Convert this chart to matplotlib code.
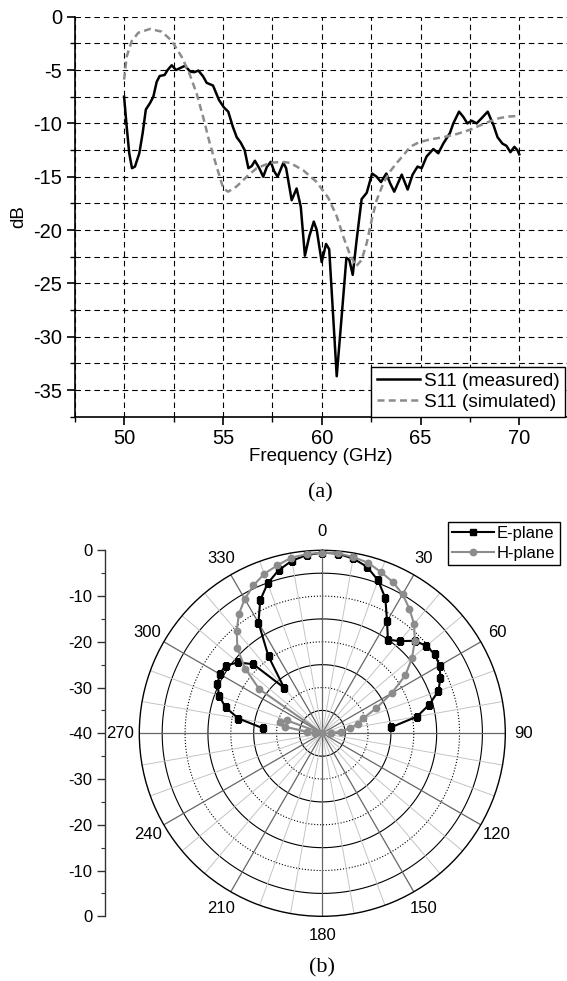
import numpy as np
import matplotlib.pyplot as plt
from matplotlib.ticker import MultipleLocator

plt.rcParams['font.family'] = ['Liberation Sans', 'DejaVu Sans']
plt.rcParams['axes.unicode_minus'] = False

# (a) S11 return loss
freq_meas = [50.0, 50.13, 50.26, 50.4, 50.55, 50.77, 50.94, 51.1, 51.31, 51.48, 51.65, 51.8,
             52.05, 52.2, 52.41, 52.63, 52.85, 53.08, 53.35, 53.55, 53.76, 54.0, 54.18, 54.5,
             54.8, 55.05, 55.27, 55.5, 55.7, 55.9, 56.1, 56.29, 56.46, 56.62, 56.84, 57.04,
             57.22, 57.42, 57.6, 57.77, 58.06, 58.2, 58.48, 58.73, 58.94, 59.15, 59.37, 59.6,
             59.75, 60.0, 60.22, 60.38, 60.76, 61.01, 61.25, 61.4, 61.57, 61.77, 62.02, 62.28,
             62.55, 62.78, 63.0, 63.27, 63.46, 63.67, 64.05, 64.35, 64.6, 64.85, 65.06, 65.31,
             65.65, 65.9, 66.15, 66.49, 66.66, 66.95, 67.17, 67.37, 67.59, 67.84, 68.1, 68.4,
             68.7, 68.9, 69.15, 69.35, 69.55, 69.75, 69.9, 70.0]
s11_meas = [-7.5, -10.3, -12.8, -14.2, -14.05, -12.8, -10.9, -8.7, -8.1, -7.5, -6.1, -5.56,
            -5.46, -5.0, -4.55, -5.0, -4.8, -4.6, -5.15, -5.2, -5.05, -5.6, -6.2, -6.45,
            -7.8, -8.5, -8.9, -10.3, -11.3, -11.8, -12.5, -14.2, -14.0, -13.5, -14.2, -15.0,
            -14.1, -13.6, -14.5, -15.0, -13.7, -14.2, -17.2, -16.1, -17.8, -22.4, -20.6, -19.2,
            -20.0, -23.0, -21.3, -21.8, -33.7, -28.1, -22.6, -22.8, -24.2, -20.9, -17.1, -16.5,
            -14.7, -15.0, -15.5, -14.7, -15.6, -16.4, -14.8, -16.2, -14.8, -14.05, -14.2, -13.1,
            -12.4, -12.8, -11.9, -10.9, -10.0, -8.9, -9.4, -10.0, -9.75, -10.0, -9.5, -8.9,
            -10.2, -11.3, -11.9, -12.1, -12.7, -12.2, -12.5, -12.9]

freq_sim = [50.0, 50.13, 50.38, 50.72, 51.31, 51.9, 52.41, 52.91, 53.3, 53.67, 54.0, 54.34,
            54.69, 55.02, 55.27, 55.7, 56.2, 56.71, 57.38, 57.98, 58.4, 59.07, 59.75, 60.34,
            60.76, 61.09, 61.43, 61.74, 62.02, 62.28, 62.53, 62.78, 63.12, 63.46, 63.8, 64.13,
            64.47, 64.89, 65.48, 66.15, 66.83, 67.5, 68.0, 68.52, 69.0, 69.5, 70.0]
s11_sim = [-5.9, -3.75, -2.3, -1.5, -1.15, -1.4, -2.25, -3.75, -5.3, -7.2, -9.4, -11.9,
           -14.1, -16.1, -16.4, -15.9, -15.0, -14.2, -13.7, -13.6, -13.7, -14.4, -15.5, -17.0,
           -18.7, -20.6, -22.3, -23.4, -22.8, -21.2, -19.05, -17.2, -15.6, -14.5, -13.7, -13.0,
           -12.2, -11.8, -11.5, -11.3, -11.0, -10.6, -10.2, -9.8, -9.5, -9.35, -9.3]

# (b) radiation pattern, angle in degrees (0 = boresight), normalised dB
ang_e = [-85, -80, -75, -70, -65, -60, -55, -50, -45, -40, -35, -30, -25, -20, -15, -10, -5,
         0, 5, 10, 15, 20, 25, 30, 35, 40, 45, 50, 55, 60, 65, 70, 75, 80, 85]
gain_e = [-26.9, -21.4, -18.1, -16.0, -14.7, -14.1, -14.2, -15.9, -18.65, -27.0, -19.5, -12.1,
          -7.9, -5.1, -3.1, -1.7, -0.9, -0.5, -0.6, -1.2, -2.3, -4.4, -7.4, -11.7, -15.0, -13.7,
          -11.4, -10.3, -9.95, -10.4, -11.5, -13.0, -15.8, -19.0, -24.9]

ang_h = [-90, -85, -80, -75, -70, -65, -60, -55, -50, -45, -40, -35, -30, -25, -20, -15, -10,
         -5, 0, 5, 10, 15, 20, 25, 30, 35, 40, 45, 50, 55, 60, 65, 70, 75, 80, 85, 90]
gain_h = [-38.5, -36.6, -31.7, -30.4, -31.7, -40.0, -40.0, -23.2, -18.0, -13.75, -10.9, -8.2,
          -6.1, -4.35, -2.9, -2.0, -1.0, -0.7, -0.5, -0.5, -0.9, -1.4, -2.5, -3.5, -4.9, -6.8,
          -8.8, -11.4, -14.4, -17.8, -22.5, -27.0, -30.5, -32.0, -33.9, -36.0, -38.0]

scale_ticks = [0, 10, 20, 30, 40, 50, 60, 70, 80]
scale_labels = ['0', '-10', '-20', '-30', '-40', '-30', '-20', '-10', '0']

W, H = 567, 981
fig = plt.figure(figsize=(W / 100, H / 100), dpi=100)

# ---------------- (a) ----------------
ax = fig.add_axes([74.7 / W, 1 - 416.8 / H, 1 - 74.7 / W, (416.8 - 16.7) / H])
ax.plot(freq_meas, s11_meas, color='black', lw=1.8, label='S11 (measured)', zorder=3)
ax.plot(freq_sim, s11_sim, color='#8c8c8c', lw=1.8, ls=(0, (2.8, 1.7)),
        label='S11 (simulated)', zorder=3)
ax.set_xlim(47.5, 47.5 + (W - 74.7) / 19.76)
ax.set_ylim(-37.5, 0)
ax.xaxis.set_major_locator(MultipleLocator(5))
ax.xaxis.set_minor_locator(MultipleLocator(2.5))
ax.yaxis.set_major_locator(MultipleLocator(5))
ax.yaxis.set_minor_locator(MultipleLocator(2.5))
ax.grid(which='both', color='black', ls=(0, (5, 3.5)), lw=0.8)
ax.set_axisbelow(True)
for s in ['top', 'right']:
    ax.spines[s].set_visible(False)
for s in ['left', 'bottom']:
    ax.spines[s].set_linewidth(1.2)
ax.tick_params(which='major', direction='out', length=6, width=1.2, labelsize=14.5, pad=3)
ax.tick_params(which='minor', direction='out', length=3.5, width=1.0)
ax.set_xlabel('Frequency (GHz)', fontsize=13.5, labelpad=0)
ax.set_ylabel('dB', fontsize=13.5, labelpad=4)
leg = ax.legend(loc='lower right', bbox_to_anchor=(0.996, 0.0), fontsize=13.8,
                fancybox=False, framealpha=1, edgecolor='black', borderaxespad=0,
                handlelength=2.25, handletextpad=0.2, borderpad=0.3, labelspacing=0.19)
leg.get_frame().set_linewidth(1.0)

fig.text(320 / W, 1 - 493 / H, '(a)', ha='center', va='center', fontsize=16,
         family='Liberation Serif')

# ---------------- (b) ----------------
cx, cy, R = 322.3, 733.3, 183.0
pax = fig.add_axes([(cx - R) / W, 1 - (cy + R) / H, 2 * R / W, 2 * R / H], projection='polar')
pax.set_theta_zero_location('N')
pax.set_theta_direction(-1)
pax.set_ylim(-40, 0)
pax.set_yticks([])
pax.grid(False)
pax.spines['polar'].set_linewidth(1.0)

full = np.linspace(0, 2 * np.pi, 721)
for r, style in zip([-35, -30, -25, -20, -15, -10, -5],
                    ['-', ':', '-', ':', '-', ':', '-']):
    pax.plot(full, np.full_like(full, r), color='black', lw=0.8, ls=style, zorder=1)
for a in range(0, 360, 10):
    major = a % 30 == 0
    pax.plot([np.deg2rad(a)] * 2, [-40, 0], color='#666666' if major else '#c4c4c4',
             lw=0.9 if major else 0.7, zorder=1)

pax.plot(np.deg2rad(ang_e), gain_e, color='black', lw=1.5, marker='s', ms=4.2,
         label='E-plane', zorder=3)
pax.plot(np.deg2rad(ang_h), gain_h, color='#8c8c8c', lw=1.5, marker='o', ms=4.6,
         label='H-plane', zorder=4)

pax.set_xticks(np.deg2rad(np.arange(0, 360, 30)))
pax.set_xticklabels([str(a) for a in range(0, 360, 30)])
pax.tick_params(axis='x', labelsize=12, pad=3)

pax.legend(loc='upper right', bbox_to_anchor=(559.5 / W, 1 - 521.7 / H),
           bbox_transform=fig.transFigure, fontsize=12, fancybox=False, framealpha=1,
           edgecolor='black', borderaxespad=0, handlelength=2.5, handletextpad=0.2,
           borderpad=0.25, labelspacing=0.3)

# radial scale at the left
sax = fig.add_axes([105 / W, 1 - (cy + R) / H, 0.02, 2 * R / H])
sax.set_ylim(80, 0)
sax.set_yticks(scale_ticks)
sax.set_yticklabels(scale_labels)
sax.yaxis.set_minor_locator(MultipleLocator(5))
sax.set_xticks([])
for s in ['top', 'right', 'bottom']:
    sax.spines[s].set_visible(False)
sax.spines['left'].set_linewidth(1.0)
sax.spines['left'].set_color('#333333')
sax.patch.set_visible(False)
sax.tick_params(which='major', direction='out', length=6, width=1.0, labelsize=12,
                colors='#333333', labelcolor='black', pad=3)
sax.tick_params(which='minor', direction='out', length=3, width=0.8, colors='#333333')

fig.text(322 / W, 1 - 968 / H, '(b)', ha='center', va='center', fontsize=16,
         family='Liberation Serif')

fig.savefig('out.png', dpi=100)
